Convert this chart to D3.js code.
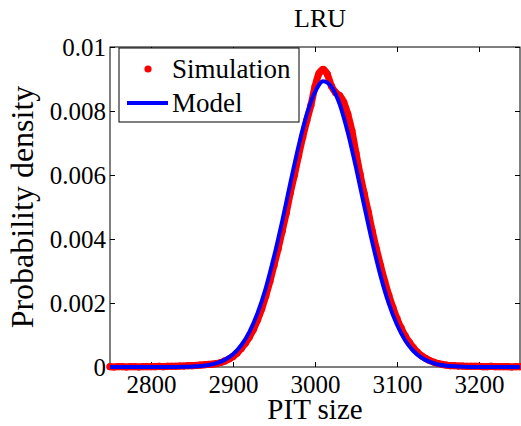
<!DOCTYPE html>
<html>
<head>
<meta charset="utf-8" />
<script src="https://d3js.org/d3.v7.min.js"></script>
<style>
    body { margin: 0; background: #fff; }
    svg text { font-family: "Liberation Serif", "Times New Roman", Times, "DejaVu Serif", serif !important; fill: #000; }
</style>
</head>
<body>
<script>
// x grid
const simStart = 2750, simStep = 5;
const modelStart = 2750, modelStep = 10;

// simulation density, one value every 5 units from 2750 to 3250
const simulation = [
    0.00001, 0.00000, 0.00001, 0.00001, 0.00000, 0.00001, 0.00001, 0.00000, 0.00001, 0.00001,
    0.00001, 0.00001, 0.00002, 0.00001, 0.00002, 0.00002, 0.00002, 0.00003, 0.00003, 0.00004,
    0.00004, 0.00005, 0.00006, 0.00007, 0.00008, 0.00009, 0.00011, 0.00014, 0.00019, 0.00025,
    0.00033, 0.00044, 0.00058, 0.00074, 0.00094, 0.00118, 0.00148, 0.00182, 0.00223, 0.00268,
    0.00318, 0.00369, 0.00425, 0.00482, 0.00545, 0.00601, 0.00661, 0.00718, 0.00770, 0.00818,
    0.00876, 0.00918, 0.00930, 0.00915, 0.00878, 0.00858, 0.00848, 0.00828, 0.00790, 0.00738,
    0.00668, 0.00602, 0.00542, 0.00484, 0.00423, 0.00368, 0.00316, 0.00268, 0.00224, 0.00186,
    0.00151, 0.00122, 0.00097, 0.00077, 0.00060, 0.00046, 0.00035, 0.00027, 0.00020, 0.00015,
    0.00011, 0.00008, 0.00006, 0.00004, 0.00004, 0.00003, 0.00003, 0.00002, 0.00002, 0.00002,
    0.00002, 0.00001, 0.00001, 0.00002, 0.00001, 0.00001, 0.00001, 0.00001, 0.00000, 0.00001,
    0.00001
];

// model density, one value every 10 units from 2750 to 3250
const model = [
    0, 0, 0, 0, 0, 0, 0, 0, 0, 0.000005,
    0.000014, 0.00003, 0.00006, 0.00012, 0.00023, 0.0004, 0.00068, 0.0011, 0.00169, 0.00247,
    0.00345, 0.00456, 0.00576, 0.00691, 0.0079, 0.00859, 0.00893, 0.00876, 0.00822, 0.00733,
    0.00623, 0.00504, 0.00388, 0.00284, 0.00198, 0.00132, 0.00083, 0.0005, 0.00029, 0.00016,
    0.00008, 0.00004, 0.00002, 0.00001, 0, 0, 0, 0, 0, 0,
    0
];

const xTicks = [2800, 2900, 3000, 3100, 3200];
const yTicks = [0, 0.002, 0.004, 0.006, 0.008, 0.01];
const yTickLabels = ['0', '0.002', '0.004', '0.006', '0.008', '0.01'];

const simData = simulation.map((v, i) => ({ x: simStart + i * simStep, y: v }));
const modelData = model.map((v, i) => ({ x: modelStart + i * modelStep, y: v }));

// dimensions
const W = 521, H = 426;
const plot = { left: 110, right: 520, top: 47, bottom: 367 };
const serif = '"Liberation Serif", "Times New Roman", Times, "DejaVu Serif", serif';

const svg = d3.select('body').append('svg')
    .attr('width', W)
    .attr('height', H);

const x = d3.scaleLinear().domain([2750, 3250]).range([plot.left, plot.right]);
const y = d3.scaleLinear().domain([0, 0.01]).range([plot.bottom, plot.top]);

// box
svg.append('rect')
    .attr('x', plot.left).attr('y', plot.top)
    .attr('width', plot.right - plot.left)
    .attr('height', plot.bottom - plot.top)
    .attr('fill', 'none').attr('stroke', '#000').attr('stroke-width', 1);

// ticks, inward on all sides
const tickLen = 5;
const fmtY = (d, i) => yTickLabels[i];
svg.append('g').attr('transform', `translate(0,${plot.bottom})`)
    .call(d3.axisBottom(x).tickValues(xTicks).tickSize(-tickLen).tickPadding(8).tickFormat(d3.format('d')))
    .call(g => g.select('.domain').remove());
svg.append('g').attr('transform', `translate(0,${plot.top})`)
    .call(d3.axisTop(x).tickValues(xTicks).tickSize(-tickLen).tickFormat(''))
    .call(g => g.select('.domain').remove());
svg.append('g').attr('transform', `translate(${plot.left},0)`)
    .call(d3.axisLeft(y).tickValues(yTicks).tickSize(-tickLen).tickPadding(4).tickFormat(fmtY))
    .call(g => g.select('.domain').remove());
svg.append('g').attr('transform', `translate(${plot.right},0)`)
    .call(d3.axisRight(y).tickValues(yTicks).tickSize(-tickLen).tickFormat(''))
    .call(g => g.select('.domain').remove());

svg.selectAll('g').attr('font-family', serif);
svg.selectAll('.tick line').attr('stroke', '#000');
svg.selectAll('.tick text')
    .attr('font-family', serif)
    .style('font-size', '25px')
    .attr('fill', '#000');

// simulation: dense red dots
const simLine = d3.line().x(d => x(d.x)).y(d => y(d.y)).curve(d3.curveMonotoneX);
svg.append('path')
    .datum(simData)
    .attr('d', simLine)
    .attr('fill', 'none')
    .attr('stroke', '#ff0000')
    .attr('stroke-width', 7)
    .attr('stroke-linejoin', 'round')
    .attr('stroke-linecap', 'round');
svg.append('g').selectAll('circle')
    .data(simData)
    .join('circle')
    .attr('cx', d => x(d.x))
    .attr('cy', d => y(d.y))
    .attr('r', 3.6)
    .attr('fill', '#ff0000');

// model line
svg.append('path')
    .datum(modelData)
    .attr('d', d3.line().x(d => x(d.x)).y(d => y(d.y)).curve(d3.curveMonotoneX))
    .attr('fill', 'none')
    .attr('stroke', '#0000ff')
    .attr('stroke-width', 4);

// title and axis labels
svg.append('text')
    .attr('x', (plot.left + plot.right) / 2 + 5).attr('y', 27)
    .attr('text-anchor', 'middle')
    .attr('font-family', serif)
    .style('font-size', '26px')
    .text('LRU');

svg.append('text')
    .attr('x', (plot.left + plot.right) / 2).attr('y', 419)
    .attr('text-anchor', 'middle')
    .attr('font-family', serif)
    .style('font-size', '29px')
    .text('PIT size');

svg.append('text')
    .attr('transform', `translate(33,${(plot.top + plot.bottom) / 2}) rotate(-90)`)
    .attr('text-anchor', 'middle')
    .attr('font-family', serif)
    .style('font-size', '32px')
    .text('Probability density');

// legend
const lg = svg.append('g');
lg.append('rect')
    .attr('x', 119).attr('y', 48)
    .attr('width', 180).attr('height', 74)
    .attr('fill', '#fff').attr('stroke', '#000').attr('stroke-width', 1);
lg.append('circle').attr('cx', 148).attr('cy', 69).attr('r', 3.6).attr('fill', '#ff0000');
lg.append('text').attr('x', 172).attr('y', 78).attr('font-family', serif).style('font-size', '27px').text('Simulation');
lg.append('line').attr('x1', 127).attr('x2', 168).attr('y1', 103).attr('y2', 103)
    .attr('stroke', '#0000ff').attr('stroke-width', 4);
lg.append('text').attr('x', 172).attr('y', 112).attr('font-family', serif).style('font-size', '27px').text('Model');
</script>
</body>
</html>
